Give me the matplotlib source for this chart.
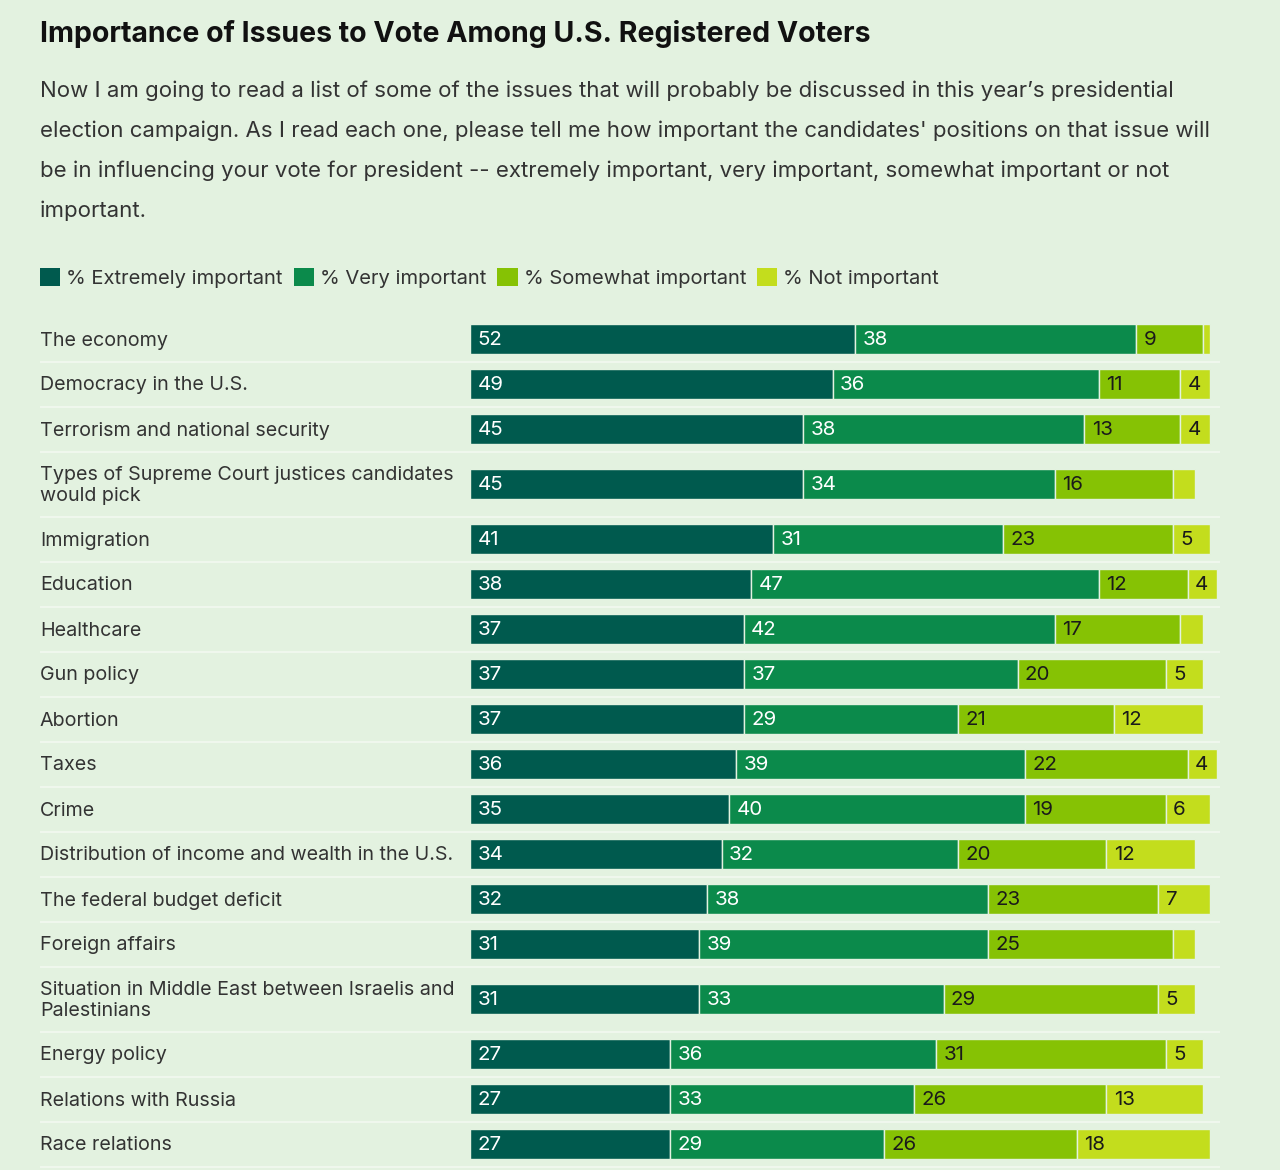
import matplotlib.pyplot as plt
from matplotlib.patches import Patch

plt.rcParams['font.family'] = ['Inter', 'DejaVu Sans']

issues = ['The economy', 'Democracy in the U.S.', 'Terrorism and national security',
          'Types of Supreme Court justices candidates\nwould pick', 'Immigration', 'Education',
          'Healthcare', 'Gun policy', 'Abortion', 'Taxes', 'Crime',
          'Distribution of income and wealth in the U.S.', 'The federal budget deficit',
          'Foreign affairs', 'Situation in Middle East between Israelis and\nPalestinians',
          'Energy policy', 'Relations with Russia', 'Race relations']
extremely = [52, 49, 45, 45, 41, 38, 37, 37, 37, 36, 35, 34, 32, 31, 31, 27, 27, 27]
very = [38, 36, 38, 34, 31, 47, 42, 37, 29, 39, 40, 32, 38, 39, 33, 36, 33, 29]
somewhat = [9, 11, 13, 16, 23, 12, 17, 20, 21, 22, 19, 20, 23, 25, 29, 31, 26, 26]
not_imp = [1, 4, 4, 3, 5, 4, 3, 5, 12, 4, 6, 12, 7, 3, 5, 5, 13, 18]

series = [('% Extremely important', extremely, '#005a4e', 'white'),
          ('% Very important', very, '#0b8a4b', 'white'),
          ('% Somewhat important', somewhat, '#86c204', '#1a1a1a'),
          ('% Not important', not_imp, '#c3dd1d', '#1a1a1a')]

bg = '#e3f2e0'
W, H = 1280, 1170
fig = plt.figure(figsize=(W / 100, H / 100), dpi=100, facecolor=bg)

# header
fig.text(40 / W, 1 - 34 / H, 'Importance of Issues to Vote Among U.S. Registered Voters',
         fontsize=20.5, fontweight='bold', color='#111111', va='center')
sub = ["Now I am going to read a list of some of the issues that will probably be discussed in this year\u2019s presidential",
       "election campaign. As I read each one, please tell me how important the candidates' positions on that issue will",
       "be in influencing your vote for president -- extremely important, very important, somewhat important or not",
       "important."]
for i, line in enumerate(sub):
    fig.text(40 / W, 1 - (91 + 40 * i) / H, line, fontsize=16, color='#333333', va='center')

# legend
handles = [Patch(facecolor=c, edgecolor='none') for _, _, c, _ in series]
fig.legend(handles, [s[0] for s in series], loc='center left',
           bbox_to_anchor=(40 / W, 1 - 278 / H), ncol=4, frameon=False,
           fontsize=14.5, handlelength=1.0, handleheight=1.0, handletextpad=0.3,
           columnspacing=0.55, labelcolor='#333333', borderpad=0, borderaxespad=0)

# chart area: x in percent, 0 at 470 px; y in pixels below the chart top
top = 316.5
px_per = 7.4
ax = fig.add_axes([40 / W, 0, 1180 / W, (H - top) / H])
ax.set_facecolor(bg)
ax.set_xlim(-430 / px_per, 750 / px_per)
ax.set_ylim(H - top, 0)
ax.axis('off')

y = 0
for i, name in enumerate(issues):
    h = 65 if '\n' in name else 45
    yc = y + h / 2
    left = 0
    for _, vals, color, tcolor in series:
        v = vals[i]
        ax.barh(yc, v, left=left, height=30, color=color, edgecolor=bg, linewidth=1)
        if v >= 4:
            ax.text(left + 1.0, yc + 1, str(v), color=tcolor, fontsize=14.8, va='center', ha='left')
        left += v
    ax.text(-430 / px_per, yc + 1.5, name, fontsize=14.2, color='#333333', va='center', ha='left',
            linespacing=1.25)
    y += h
    ax.axhline(y, color='#f2f9f0', linewidth=1.2, zorder=0)

fig.savefig('out.png', dpi=100, facecolor=bg)
